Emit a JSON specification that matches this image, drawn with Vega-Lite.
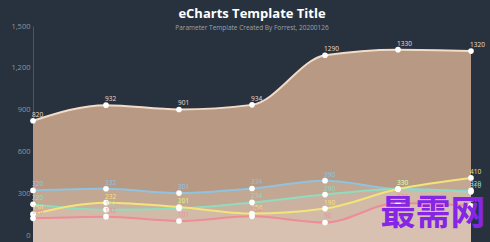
{
  "$schema": "https://vega.github.io/schema/vega-lite/v6.json",
  "width": 438,
  "height": 216,
  "autosize": "none",
  "padding": {"left": 33, "top": 26, "right": 19, "bottom": 0},
  "background": "#28323e",
  "config": {"view": {"stroke": null}},
  "title": {
    "text": "eCharts Template Title",
    "subtitle": "Parameter Template Created By Forrest, 20200126",
    "color": "#ffffff",
    "subtitleColor": "#9aa3ad",
    "font": "Open Sans",
    "subtitleFont": "Open Sans",
    "fontSize": 13,
    "fontWeight": "bold",
    "subtitleFontSize": 6.5,
    "subtitlePadding": 4,
    "anchor": "middle",
    "offset": -9
  },
  "datasets": {
    "series": [
      {"day": "Mon", "series": "Search Engine", "value": 820},
      {"day": "Tue", "series": "Search Engine", "value": 932},
      {"day": "Wed", "series": "Search Engine", "value": 901},
      {"day": "Thu", "series": "Search Engine", "value": 934},
      {"day": "Fri", "series": "Search Engine", "value": 1290},
      {"day": "Sat", "series": "Search Engine", "value": 1330},
      {"day": "Sun", "series": "Search Engine", "value": 1320},
      {"day": "Mon", "series": "Direct", "value": 320},
      {"day": "Tue", "series": "Direct", "value": 332},
      {"day": "Wed", "series": "Direct", "value": 301},
      {"day": "Thu", "series": "Direct", "value": 334},
      {"day": "Fri", "series": "Direct", "value": 390},
      {"day": "Sat", "series": "Direct", "value": 330},
      {"day": "Sun", "series": "Direct", "value": 320},
      {"day": "Mon", "series": "Union Ads", "value": 220},
      {"day": "Tue", "series": "Union Ads", "value": 182},
      {"day": "Wed", "series": "Union Ads", "value": 191},
      {"day": "Thu", "series": "Union Ads", "value": 234},
      {"day": "Fri", "series": "Union Ads", "value": 290},
      {"day": "Sat", "series": "Union Ads", "value": 330},
      {"day": "Sun", "series": "Union Ads", "value": 310},
      {"day": "Mon", "series": "Video Ads", "value": 150},
      {"day": "Tue", "series": "Video Ads", "value": 232},
      {"day": "Wed", "series": "Video Ads", "value": 201},
      {"day": "Thu", "series": "Video Ads", "value": 154},
      {"day": "Fri", "series": "Video Ads", "value": 190},
      {"day": "Sat", "series": "Video Ads", "value": 330},
      {"day": "Sun", "series": "Video Ads", "value": 410},
      {"day": "Mon", "series": "Email", "value": 120},
      {"day": "Tue", "series": "Email", "value": 132},
      {"day": "Wed", "series": "Email", "value": 101},
      {"day": "Thu", "series": "Email", "value": 134},
      {"day": "Fri", "series": "Email", "value": 90},
      {"day": "Sat", "series": "Email", "value": 230},
      {"day": "Sun", "series": "Email", "value": 210}
    ],
    "mark": [
      {"day": "Sat", "value": 150, "label": "最需网"}
    ]
  },
  "encoding": {
    "x": {
      "field": "day",
      "type": "ordinal",
      "sort": ["Mon", "Tue", "Wed", "Thu", "Fri", "Sat", "Sun"],
      "scale": {"type": "point", "padding": 0},
      "axis": null
    },
    "y": {
      "field": "value",
      "type": "quantitative",
      "scale": {"domain": [-50, 1500], "nice": false, "zero": false},
      "axis": {
        "values": [0, 300, 600, 900, 1200, 1500],
        "format": ",.0f",
        "ticks": false,
        "grid": false,
        "domainColor": "#4c5764",
        "labelColor": "#8c96a0",
        "labelFont": "Open Sans",
        "labelFontSize": 7.5,
        "labelPadding": 3,
        "title": null
      }
    }
  },
  "layer": [
    {
      "data": {"name": "series"},
      "transform": [{"filter": "datum.series === 'Search Engine'"}],
      "mark": {"type": "area", "interpolate": "monotone", "color": "#b89a84", "opacity": 1},
      "encoding": {"y2": {"datum": -50}}
    },
    {
      "data": {"name": "series"},
      "transform": [{"filter": "datum.series !== 'Search Engine'"}],
      "mark": {"type": "area", "interpolate": "monotone", "color": "#f2e6d6", "opacity": 0.18},
      "encoding": {"y2": {"datum": -50}, "detail": {"field": "series"}}
    },
    {
      "data": {"name": "series"},
      "mark": {"type": "line", "interpolate": "monotone", "strokeWidth": 2},
      "encoding": {
        "color": {
          "field": "series",
          "type": "nominal",
          "scale": {
            "domain": ["Search Engine", "Direct", "Union Ads", "Video Ads", "Email"],
            "range": ["#f2dcc8", "#8fc3e0", "#8fdcc0", "#f3e47a", "#ee8c97"]
          },
          "legend": null
        }
      }
    },
    {
      "data": {"name": "series"},
      "mark": {"type": "circle", "size": 32, "color": "#ffffff", "opacity": 1},
      "encoding": {}
    },
    {
      "data": {"name": "series"},
      "mark": {"type": "text", "align": "left", "baseline": "bottom", "dx": -1, "dy": -3, "fontSize": 6.5, "font": "Open Sans"},
      "encoding": {
        "text": {"field": "value", "type": "quantitative"},
        "color": {
          "field": "series",
          "type": "nominal",
          "scale": {
            "domain": ["Search Engine", "Direct", "Union Ads", "Video Ads", "Email"],
            "range": ["#eeeeee", "#9fc9e3", "#a8e3c8", "#f1e08a", "#f09aa3"]
          },
          "legend": null
        }
      }
    },
    {
      "data": {"name": "mark"},
      "mark": {"type": "text", "align": "center", "baseline": "middle", "dx": 35, "fontSize": 35, "fontWeight": "bold", "font": "Noto Sans CJK SC", "color": "#8426e4"},
      "encoding": {"text": {"field": "label"}}
    }
  ]
}
